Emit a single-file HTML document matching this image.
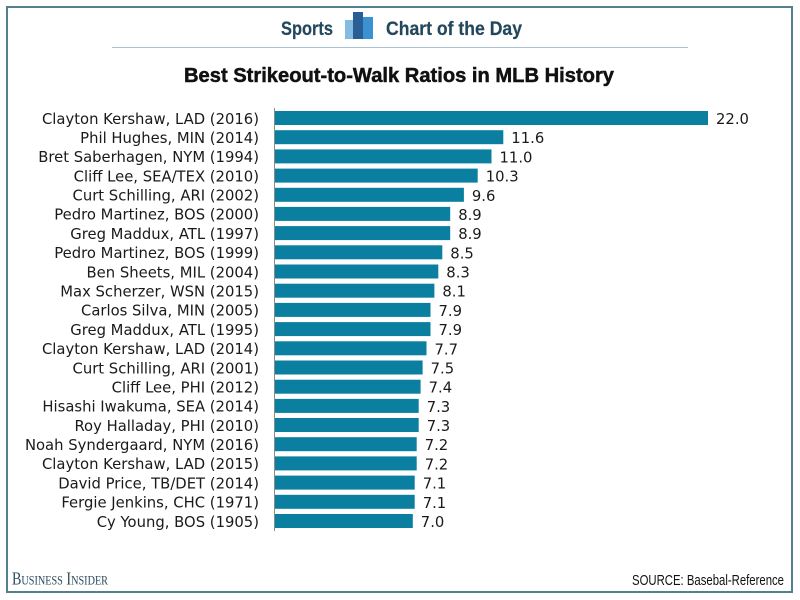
<!DOCTYPE html>
<html><head><meta charset="utf-8"><style>
html,body{margin:0;padding:0;background:#fff;}
svg{display:block;}
</style></head><body>
<svg width="800" height="600" viewBox="0 0 800 600" xmlns="http://www.w3.org/2000/svg">
<rect x="0" y="0" width="800" height="600" fill="#fff"/>
<rect x="7" y="7" width="785" height="585" fill="none" stroke="#52808f" stroke-width="2"/>
<line x1="112" y1="47.5" x2="688" y2="47.5" stroke="#a9c1d2" stroke-width="1"/>
<!-- header -->
<text x="281" y="35" font-family="Liberation Sans, sans-serif" font-weight="bold" font-size="19.5" fill="#23475d" stroke="#23475d" stroke-width="0.2" textLength="52" lengthAdjust="spacingAndGlyphs">Sports</text>
<rect x="345" y="20" width="12" height="19" fill="#84bbe3"/>
<rect x="361" y="17" width="12" height="22" fill="#3b92d2"/>
<rect x="353" y="12" width="10" height="27" fill="#2a5f96"/>
<text x="386" y="35" font-family="Liberation Sans, sans-serif" font-weight="bold" font-size="19.5" fill="#23475d" stroke="#23475d" stroke-width="0.2" textLength="136" lengthAdjust="spacingAndGlyphs">Chart of the Day</text>
<!-- title -->
<text x="184" y="82" font-family="Liberation Sans, sans-serif" font-weight="bold" font-size="20.5" fill="#111" stroke="#111" stroke-width="0.5" textLength="430" lengthAdjust="spacingAndGlyphs">Best Strikeout-to-Walk Ratios in MLB History</text>
<!-- axis -->
<line x1="274.5" y1="108" x2="274.5" y2="531" stroke="#8a8a8a" stroke-width="1"/>
<g font-family="DejaVu Sans, Verdana, sans-serif" font-size="14.8" fill="#1a1a1a">
<rect x="275" y="111.0" width="433.0" height="14" fill="#0a7fa0"/><text x="259" y="123.8" text-anchor="end">Clayton Kershaw, LAD (2016)</text><text x="716.0" y="124.0">22.0</text>
<rect x="275" y="130.2" width="228.3" height="14" fill="#0a7fa0"/><text x="259" y="143.0" text-anchor="end">Phil Hughes, MIN (2014)</text><text x="511.3" y="143.2">11.6</text>
<rect x="275" y="149.4" width="216.5" height="14" fill="#0a7fa0"/><text x="259" y="162.2" text-anchor="end">Bret Saberhagen, NYM (1994)</text><text x="499.5" y="162.4">11.0</text>
<rect x="275" y="168.6" width="202.7" height="14" fill="#0a7fa0"/><text x="259" y="181.4" text-anchor="end">Cliff Lee, SEA/TEX (2010)</text><text x="485.7" y="181.6">10.3</text>
<rect x="275" y="187.8" width="188.9" height="14" fill="#0a7fa0"/><text x="259" y="200.6" text-anchor="end">Curt Schilling, ARI (2002)</text><text x="471.9" y="200.8">9.6</text>
<rect x="275" y="206.9" width="175.2" height="14" fill="#0a7fa0"/><text x="259" y="219.7" text-anchor="end">Pedro Martinez, BOS (2000)</text><text x="458.2" y="219.9">8.9</text>
<rect x="275" y="226.1" width="175.2" height="14" fill="#0a7fa0"/><text x="259" y="238.9" text-anchor="end">Greg Maddux, ATL (1997)</text><text x="458.2" y="239.1">8.9</text>
<rect x="275" y="245.3" width="167.3" height="14" fill="#0a7fa0"/><text x="259" y="258.1" text-anchor="end">Pedro Martinez, BOS (1999)</text><text x="450.3" y="258.3">8.5</text>
<rect x="275" y="264.5" width="163.3" height="14" fill="#0a7fa0"/><text x="259" y="277.3" text-anchor="end">Ben Sheets, MIL (2004)</text><text x="446.3" y="277.5">8.3</text>
<rect x="275" y="283.7" width="159.4" height="14" fill="#0a7fa0"/><text x="259" y="296.5" text-anchor="end">Max Scherzer, WSN (2015)</text><text x="442.4" y="296.7">8.1</text>
<rect x="275" y="302.9" width="155.5" height="14" fill="#0a7fa0"/><text x="259" y="315.7" text-anchor="end">Carlos Silva, MIN (2005)</text><text x="438.5" y="315.9">7.9</text>
<rect x="275" y="322.1" width="155.5" height="14" fill="#0a7fa0"/><text x="259" y="334.9" text-anchor="end">Greg Maddux, ATL (1995)</text><text x="438.5" y="335.1">7.9</text>
<rect x="275" y="341.3" width="151.5" height="14" fill="#0a7fa0"/><text x="259" y="354.1" text-anchor="end">Clayton Kershaw, LAD (2014)</text><text x="434.5" y="354.3">7.7</text>
<rect x="275" y="360.5" width="147.6" height="14" fill="#0a7fa0"/><text x="259" y="373.3" text-anchor="end">Curt Schilling, ARI (2001)</text><text x="430.6" y="373.5">7.5</text>
<rect x="275" y="379.7" width="145.6" height="14" fill="#0a7fa0"/><text x="259" y="392.5" text-anchor="end">Cliff Lee, PHI (2012)</text><text x="428.6" y="392.7">7.4</text>
<rect x="275" y="398.9" width="143.7" height="14" fill="#0a7fa0"/><text x="259" y="411.7" text-anchor="end">Hisashi Iwakuma, SEA (2014)</text><text x="426.7" y="411.9">7.3</text>
<rect x="275" y="418.0" width="143.7" height="14" fill="#0a7fa0"/><text x="259" y="430.8" text-anchor="end">Roy Halladay, PHI (2010)</text><text x="426.7" y="431.0">7.3</text>
<rect x="275" y="437.2" width="141.7" height="14" fill="#0a7fa0"/><text x="259" y="450.0" text-anchor="end">Noah Syndergaard, NYM (2016)</text><text x="424.7" y="450.2">7.2</text>
<rect x="275" y="456.4" width="141.7" height="14" fill="#0a7fa0"/><text x="259" y="469.2" text-anchor="end">Clayton Kershaw, LAD (2015)</text><text x="424.7" y="469.4">7.2</text>
<rect x="275" y="475.6" width="139.7" height="14" fill="#0a7fa0"/><text x="259" y="488.4" text-anchor="end">David Price, TB/DET (2014)</text><text x="422.7" y="488.6">7.1</text>
<rect x="275" y="494.8" width="139.7" height="14" fill="#0a7fa0"/><text x="259" y="507.6" text-anchor="end">Fergie Jenkins, CHC (1971)</text><text x="422.7" y="507.8">7.1</text>
<rect x="275" y="514.0" width="137.8" height="14" fill="#0a7fa0"/><text x="259" y="526.8" text-anchor="end">Cy Young, BOS (1905)</text><text x="420.8" y="527.0">7.0</text>
</g>
<!-- footer -->
<text x="12" y="584.5" font-family="Liberation Serif, serif" font-size="18" fill="#2b4a5e" style="font-variant:small-caps" textLength="96" lengthAdjust="spacingAndGlyphs">Business Insider</text>
<text x="632" y="585" font-family="Liberation Sans, sans-serif" font-size="15" fill="#111" textLength="152" lengthAdjust="spacingAndGlyphs">SOURCE: Basebal-Reference</text>
</svg>
</body></html>
